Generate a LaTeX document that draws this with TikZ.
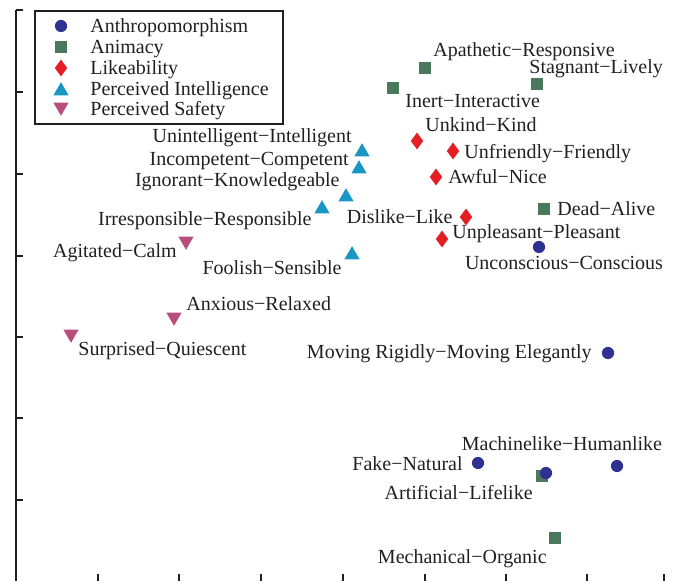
\documentclass[tikz,border=0pt]{standalone}
\usepackage{fontspec}
\setmainfont{Liberation Serif}
\usetikzlibrary{shapes.geometric, positioning}

\definecolor{anthroblue}{RGB}{46,49,146}
\definecolor{animgreen}{RGB}{74,120,92}
\definecolor{likered}{RGB}{228,30,37}
\definecolor{intelblue}{RGB}{24,150,196}
\definecolor{safepink}{RGB}{183,78,126}
\definecolor{inkgray}{RGB}{35,31,32}

\newcommand{\pairdash}{\char"2212\relax}

\begin{document}
\begin{tikzpicture}[
  x=0.5pt, y=-0.5pt,
  font=\fontsize{10}{12}\selectfont, text=inkgray,
  axis/.style  = {draw=inkgray, line width=0.8pt},
  dot/.style   = {circle, fill=anthroblue, inner sep=0pt, minimum size=6.1pt},
  sq/.style    = {rectangle, fill=animgreen, inner sep=0pt, minimum size=5.8pt},
  dia/.style   = {diamond, fill=likered, inner sep=0pt, minimum width=6.4pt, minimum height=8.6pt},
  tri/.style   = {regular polygon, regular polygon sides=3, fill=intelblue, inner sep=0pt, minimum size=8.8pt},
  itri/.style  = {tri, fill=safepink, shape border rotate=180},
  lbl/.style   = {inner sep=0pt, text height=0.7em, text depth=0.2em, yshift=-1pt},
]
\useasboundingbox (0,0) rectangle (678,581);

%── Axes ──────────────────────────────────────────────────────────────────────
\draw[axis] (16,10) -- (16,581);
\foreach \ty in {10,92,174,256,337,418,500}
  \draw[axis] (16,\ty) -- ++(7,0);
\foreach \tx in {98,179,261,343,425,506,587,664}
  \draw[axis] (\tx,581) -- ++(0,-7);

%── Legend ────────────────────────────────────────────────────────────────────
\draw[inkgray, line width=0.8pt] (35,11) rectangle (283,124);
\node[dot]  (lg1) at (61,26)  {};
\node[sq]   (lg2) at (61,47)  {};
\node[dia]  (lg3) at (61,68)  {};
\node[tri]  (lg4) at (61,91)  {};
\node[itri] (lg5) at (61,107) {};
\node[lbl, anchor=west] (lg1-l) at (90,26)  {Anthropomorphism};
\node[lbl, anchor=west] (lg2-l) at (90,47)  {Animacy};
\node[lbl, anchor=west] (lg3-l) at (90,68)  {Likeability};
\node[lbl, anchor=west] (lg4-l) at (90,89)  {Perceived Intelligence};
\node[lbl, anchor=west] (lg5-l) at (90,109) {Perceived Safety};

%── Animacy ───────────────────────────────────────────────────────────────────
\node[sq] (apa)  at (425,68)  {};
\node[sq] (ine)  at (393,88)  {};
\node[sq] (sta)  at (537,84)  {};
\node[sq] (dea)  at (544,209) {};
\node[sq] (artB) at (542,476) {};
\node[sq] (mec)  at (555,538) {};
\node[lbl, anchor=west] (apa-l)  at (433,50)  {Apathetic\pairdash Responsive};
\node[lbl, anchor=west] (ine-l)  at (405,101) {Inert\pairdash Interactive};
\node[lbl, anchor=west] (sta-l)  at (529,67)  {Stagnant\pairdash Lively};
\node[lbl, anchor=west] (dea-l)  at (557,209) {Dead\pairdash Alive};
\node[lbl, anchor=east] (artB-l) at (533,492) {Artificial\pairdash Lifelike};
\node[lbl, anchor=east] (mec-l)  at (547,556) {Mechanical\pairdash Organic};

%── Anthropomorphism ──────────────────────────────────────────────────────────
\node[dot] (unc)  at (539,247) {};
\node[dot] (mov)  at (608,353) {};
\node[dot] (fake) at (478,463) {};
\node[dot] (mach) at (617,466) {};
\node[dot] (artA) at (546,473) {};
\node[lbl]              (unc-l)  at (564,263) {Unconscious\pairdash Conscious};
\node[lbl, anchor=east] (mov-l)  at (592,352) {Moving Rigidly\pairdash Moving Elegantly};
\node[lbl, anchor=east] (fake-l) at (463,463) {Fake\pairdash Natural};
\node[lbl]              (mach-l) at (562,444) {Machinelike\pairdash Humanlike};

%── Likeability ───────────────────────────────────────────────────────────────
\node[dia] (unk) at (417,141) {};
\node[dia] (unf) at (453,151) {};
\node[dia] (awf) at (436,177) {};
\node[dia] (dis) at (466,217) {};
\node[dia] (unp) at (442,239) {};
\node[lbl, anchor=west] (unk-l) at (425,125) {Unkind\pairdash Kind};
\node[lbl, anchor=west] (unf-l) at (464,152) {Unfriendly\pairdash Friendly};
\node[lbl, anchor=west] (awf-l) at (448,177) {Awful\pairdash Nice};
\node[lbl, anchor=east] (dis-l) at (453,217) {Dislike\pairdash Like};
\node[lbl, anchor=west] (unp-l) at (452,232) {Unpleasant\pairdash Pleasant};

%── Perceived intelligence ────────────────────────────────────────────────────
\node[tri] (uni) at (362,152) {};
\node[tri] (inc) at (359,169) {};
\node[tri] (ign) at (346,197) {};
\node[tri] (irr) at (322,209) {};
\node[tri] (foo) at (352,255) {};
\node[lbl, anchor=east] (uni-l) at (352,136) {Unintelligent\pairdash Intelligent};
\node[lbl, anchor=east] (inc-l) at (349,159) {Incompetent\pairdash Competent};
\node[lbl, anchor=east] (ign-l) at (340,180) {Ignorant\pairdash Knowledgeable};
\node[lbl, anchor=east] (irr-l) at (312,219) {Irresponsible\pairdash Responsible};
\node[lbl, anchor=east] (foo-l) at (342,268) {Foolish\pairdash Sensible};

%── Perceived safety ──────────────────────────────────────────────────────────
\node[itri] (agi) at (186,241) {};
\node[itri] (anx) at (174,317) {};
\node[itri] (sur) at (71,334)  {};
\node[lbl, anchor=east] (agi-l) at (177,251) {Agitated\pairdash Calm};
\node[lbl, anchor=west] (anx-l) at (186,304) {Anxious\pairdash Relaxed};
\node[lbl, anchor=west] (sur-l) at (78,349)  {Surprised\pairdash Quiescent};

\end{tikzpicture}
\end{document}
